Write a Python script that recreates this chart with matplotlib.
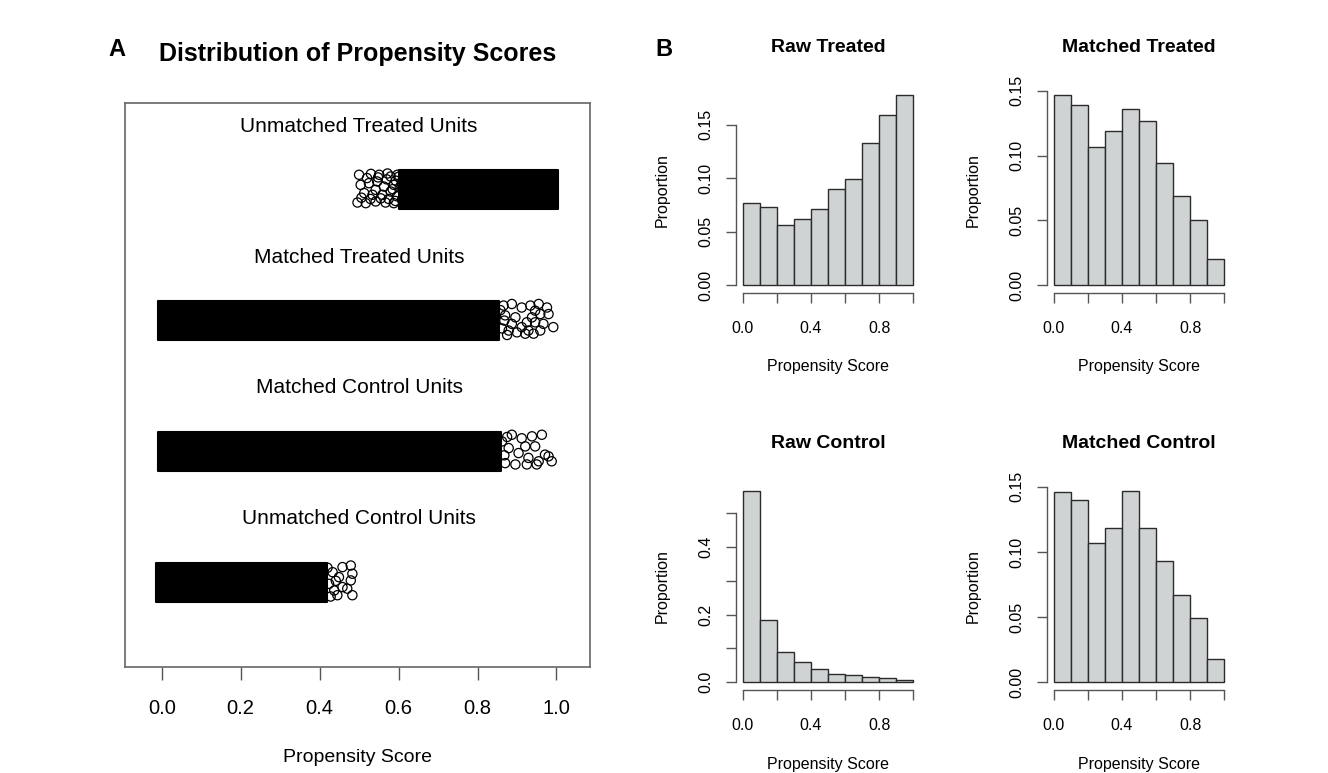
import matplotlib.pyplot as plt
import matplotlib.transforms as mtransforms

plt.rcParams['font.family'] = ['Liberation Sans', 'DejaVu Sans']

# ---- panel A: jittered propensity scores per group ----
groups = ['Unmatched Treated Units', 'Matched Treated Units',
          'Matched Control Units', 'Unmatched Control Units']
group_pos = [4, 3, 2, 1]
# range of propensity score where the points are so dense they form a solid band
core_start = [0.600, -0.010, -0.010, -0.014]
core_end = [1.005, 0.855, 0.860, 0.418]

# the sparse circles visible at the edge of each band (score, vertical jitter)
ut_x = [0.500, 0.530, 0.551, 0.580, 0.597, 0.504, 0.525, 0.546, 0.563, 0.542,
        0.513, 0.534, 0.559, 0.580, 0.588, 0.496, 0.517, 0.542, 0.567, 0.588,
        0.609, 0.570, 0.593, 0.603, 0.596, 0.575, 0.555, 0.585, 0.600, 0.572,
        0.608, 0.529, 0.520, 0.506, 0.548, 0.592]
ut_y = [0.115, 0.122, 0.115, 0.102, 0.115, 0.038, 0.051, 0.064, 0.025, 0.000,
        -0.025, -0.038, -0.038, -0.013, 0.038, -0.097, -0.102, -0.089, -0.097, -0.102,
        -0.076, 0.080, 0.070, 0.020, -0.050, -0.070, -0.065, 0.005, 0.100, 0.125,
        0.050, -0.070, 0.090, -0.060, 0.095, -0.085]
mt_x = [0.866, 0.887, 0.912, 0.934, 0.955, 0.976, 0.959, 0.980, 0.938, 0.946,
        0.887, 0.912, 0.929, 0.959, 0.992, 0.921, 0.900, 0.879, 0.946, 0.967,
        0.870, 0.896, 0.925, 0.942, 0.862, 0.875, 0.858, 0.868]
mt_y = [0.115, 0.127, 0.100, 0.115, 0.127, 0.100, 0.050, 0.050, 0.025, -0.013,
        -0.025, -0.050, -0.076, -0.076, -0.050, -0.100, -0.090, -0.076, 0.076, -0.025,
        0.040, 0.025, -0.013, -0.100, -0.060, -0.110, 0.080, 0.000]
mc_x = [0.887, 0.912, 0.938, 0.963, 0.946, 0.971, 0.988, 0.955, 0.929, 0.904,
        0.879, 0.870, 0.896, 0.925, 0.950, 0.980, 0.862, 0.921, 0.868, 0.875]
mc_y = [0.127, 0.100, 0.115, 0.127, 0.038, -0.025, -0.076, -0.076, -0.050, -0.013,
        0.025, -0.090, -0.100, -0.100, -0.100, -0.038, 0.076, 0.038, -0.030, 0.110]
uc_x = [0.479, 0.483, 0.479, 0.483, 0.458, 0.449, 0.458, 0.445, 0.433, 0.424,
        0.437, 0.470, 0.420, 0.428, 0.441]
uc_y = [0.127, 0.064, 0.013, -0.100, 0.115, 0.038, -0.038, -0.100, 0.076, -0.013,
        -0.064, -0.050, 0.110, -0.110, 0.010]
tails_x = [ut_x, mt_x, mc_x, uc_x]
tails_y = [ut_y, mt_y, mc_y, uc_y]

# ---- panel B: histograms (bins of width 0.1 on [0, 1]) ----
bin_edges = [0.0, 0.1, 0.2, 0.3, 0.4, 0.5, 0.6, 0.7, 0.8, 0.9]
raw_treated = [0.077, 0.073, 0.056, 0.062, 0.071, 0.090, 0.099, 0.133, 0.159, 0.178]
matched_treated = [0.147, 0.139, 0.107, 0.119, 0.136, 0.127, 0.094, 0.069, 0.050, 0.020]
raw_control = [0.566, 0.185, 0.089, 0.061, 0.040, 0.025, 0.021, 0.015, 0.012, 0.006]
matched_control = [0.146, 0.140, 0.107, 0.118, 0.147, 0.118, 0.093, 0.067, 0.049, 0.018]

W, H = 1328, 773
fig = plt.figure(figsize=(W / 100, H / 100), dpi=100)


def px_rect(left, top, right, bottom):
    return [left / W, 1 - bottom / H, (right - left) / W, (bottom - top) / H]


# ----- panel A -----
ax = fig.add_axes(px_rect(125, 103, 590, 667))
half = 0.15
for i, g in enumerate(groups):
    yc = group_pos[i]
    ax.broken_barh([(core_start[i], core_end[i] - core_start[i])],
                   (yc - half, 2 * half), facecolors='black', edgecolors='black',
                   linewidth=1.5, capstyle='round', joinstyle='round')
    ax.scatter(tails_x[i], [yc + v for v in tails_y[i]], s=44,
               facecolors='none', edgecolors='black', linewidths=0.9)
    ax.text(0.5, yc + 0.485, g, ha='center', va='center', fontsize=15)

ax.set_xlim(-0.093, 1.085)
ax.set_ylim(0.351, 4.664)
ax.set_yticks([])
ax.set_xticks([0.0, 0.2, 0.4, 0.6, 0.8, 1.0])
ax.set_xticklabels(['0.0', '0.2', '0.4', '0.6', '0.8', '1.0'])
ax.tick_params(axis='x', direction='out', length=9, width=1.0, color='#555555',
               labelsize=14.5, pad=14)
for sp in ax.spines.values():
    sp.set_color('#666666')
    sp.set_linewidth(1.2)
ax.set_xlabel('Propensity Score', fontsize=14, labelpad=22)

fig.text(117 / W, 1 - 49 / H, 'A', fontsize=17, fontweight='bold', ha='center', va='center')
fig.text(358 / W, 1 - 54 / H, 'Distribution of Propensity Scores', fontsize=18,
         fontweight='bold', ha='center', va='center')
fig.text(664 / W, 1 - 49 / H, 'B', fontsize=17, fontweight='bold', ha='center', va='center')

# ----- panel B -----
hist_specs = [
    ('Raw Treated', raw_treated, [0.0, 0.05, 0.10, 0.15], ['0.00', '0.05', '0.10', '0.15'],
     (736, 87, 920, 293)),
    ('Matched Treated', matched_treated, [0.0, 0.05, 0.10, 0.15], ['0.00', '0.05', '0.10', '0.15'],
     (1047, 87, 1231, 293)),
    ('Raw Control', raw_control, [0.0, 0.1, 0.2, 0.3, 0.4, 0.5], ['0.0', '', '0.2', '', '0.4', ''],
     (736, 483, 920, 690)),
    ('Matched Control', matched_control, [0.0, 0.05, 0.10, 0.15], ['0.00', '0.05', '0.10', '0.15'],
     (1047, 483, 1231, 690)),
]

for title, vals, yt, ytl, box in hist_specs:
    hx = fig.add_axes(px_rect(*box))
    hx.bar(bin_edges, vals, width=0.1, align='edge', color='#cfd3d3',
           edgecolor='#2b2b2b', linewidth=1.0)
    ymax = max(vals)
    hx.set_xlim(-0.04, 1.04)
    hx.set_ylim(-0.04 * ymax, 1.04 * ymax)
    hx.spines['top'].set_visible(False)
    hx.spines['right'].set_visible(False)
    hx.spines['left'].set_bounds(yt[0], yt[-1])
    hx.spines['bottom'].set_bounds(0, 1)
    for sp in ('left', 'bottom'):
        hx.spines[sp].set_color('#555555')
        hx.spines[sp].set_linewidth(1.0)
    hx.set_xticks([0.0, 0.2, 0.4, 0.6, 0.8, 1.0])
    hx.set_xticklabels(['0.0', '', '0.4', '', '0.8', ''])
    hx.set_yticks(yt)
    hx.set_yticklabels(ytl, rotation=90, va='center')
    hx.tick_params(direction='out', length=7.5, width=1.0, color='#555555',
                   labelsize=11.5)
    hx.tick_params(axis='x', pad=12.5)
    hx.tick_params(axis='y', pad=9)
    off_t = mtransforms.offset_copy(hx.transAxes, fig=fig, y=40, units='dots')
    hx.text(0.5, 1, title, transform=off_t, ha='center', va='center',
            fontsize=14, fontweight='bold')
    off_x = mtransforms.offset_copy(hx.transAxes, fig=fig, y=-74, units='dots')
    hx.text(0.5, 0, 'Propensity Score', transform=off_x, ha='center', va='center',
            fontsize=11.5)
    off_y = mtransforms.offset_copy(hx.transAxes, fig=fig, x=-74, units='dots')
    hx.text(0, 0.5, 'Proportion', transform=off_y, ha='center', va='center',
            rotation=90, fontsize=11.5)

fig.savefig('out.png', dpi=100)
